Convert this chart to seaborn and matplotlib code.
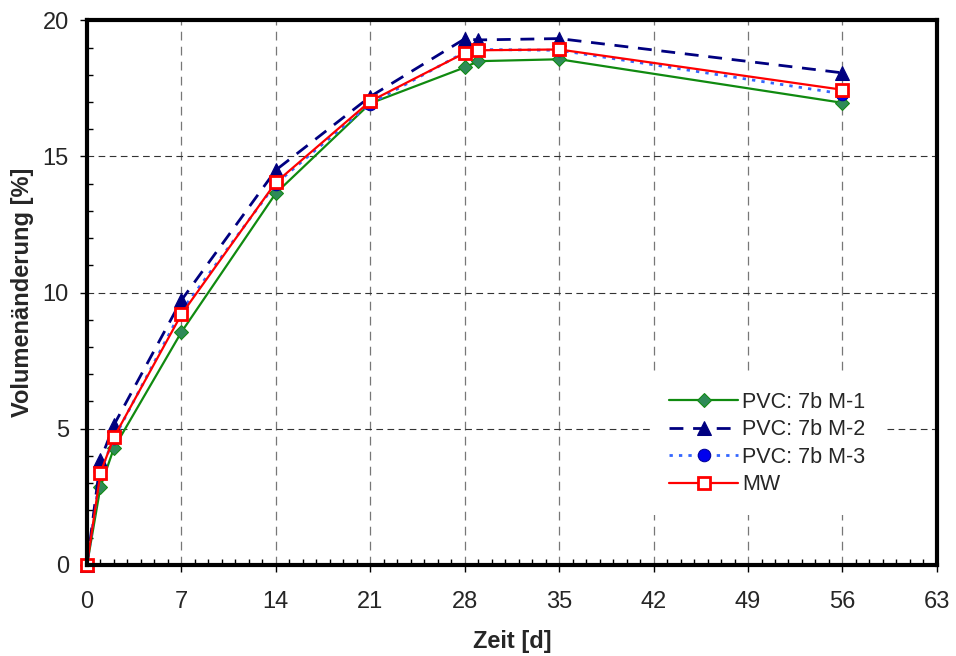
#!/usr/bin/env python3
# coding: utf-8

import matplotlib
matplotlib.use('Agg')
import matplotlib.pyplot as plt
import seaborn as sns
from matplotlib.ticker import MultipleLocator

# Zeitpunkte [d]
tage = [0, 1, 2, 7, 14, 21, 28, 29, 35, 56]

# Volumenaenderung [%]
m1 = [0, 2.87, 4.29, 8.55, 13.65, 16.95, 18.27, 18.50, 18.57, 16.97]
m2 = [0, 3.85, 5.14, 9.72, 14.50, 17.20, 19.32, 19.28, 19.33, 18.07]
m3 = [0, 3.45, 4.64, 9.33, 14.00, 16.94, 18.83, 18.93, 18.90, 17.30]
mw = [0, 3.39, 4.69, 9.20, 14.05, 17.03, 18.80, 18.90, 18.93, 17.45]

labels = ['PVC: 7b M-1', 'PVC: 7b M-2', 'PVC: 7b M-3', 'MW']

sns.set_style('white')
plt.rcParams['font.family'] = ['Liberation Sans', 'DejaVu Sans']

fig = plt.figure(figsize=(9.56, 6.56), dpi=100)
ax = fig.add_axes([0.091, 0.139, 0.889, 0.830])

# M-1
sns.lineplot(x=tage, y=m1, ax=ax, color='#108a10', lw=1.6, marker='D',
             markersize=7, markerfacecolor='#2e8b57', markeredgecolor='#108a10',
             label=labels[0])
# M-3
sns.lineplot(x=tage, y=m3, ax=ax, color='#3366ff', lw=2, marker='o',
             markersize=9, markerfacecolor='#0000ee', markeredgecolor='#000099',
             label=labels[2])
ax.lines[-1].set_linestyle((0, (1.2, 2.2)))
# M-2
sns.lineplot(x=tage, y=m2, ax=ax, color='#000080', lw=2, marker='^',
             markersize=10, markerfacecolor='#000080', markeredgecolor='#000080',
             label=labels[1])
ax.lines[-1].set_linestyle((0, (5, 3.5)))
# MW
sns.lineplot(x=tage, y=mw, ax=ax, color='#ff0000', lw=1.6, marker='s',
             markersize=9, markerfacecolor='white', markeredgecolor='#ff0000',
             markeredgewidth=2, label=labels[3])

ax.set_xlim(0, 63)
ax.set_ylim(0, 20)
ax.xaxis.set_major_locator(MultipleLocator(7))
ax.xaxis.set_minor_locator(MultipleLocator(1))
ax.yaxis.set_major_locator(MultipleLocator(5))
ax.yaxis.set_minor_locator(MultipleLocator(1))
ax.tick_params(which='major', direction='out', length=5, width=1,
               labelsize=17, color='black', bottom=True, left=True)
ax.tick_params(axis='x', which='major', pad=14)
ax.tick_params(axis='y', which='major', pad=8)
ax.tick_params(which='minor', direction='in', length=4, width=1,
               color='black', bottom=True, left=True)

ax.xaxis.grid(True, which='major', color='#777777', linestyle=(0, (7, 5)), lw=0.9)
ax.yaxis.grid(True, which='major', color='#333333', linestyle=(0, (6, 4)), lw=0.8)
for s in ax.spines.values():
    s.set_linewidth(3)
    s.set_color('black')

ax.set_xlabel('Zeit [d]', fontsize=17, fontweight='bold', labelpad=12)
ax.set_ylabel('Volumenänderung [%]', fontsize=17, fontweight='bold', labelpad=6)

handles, labs = ax.get_legend_handles_labels()
order = [labs.index(l) for l in labels]
leg = ax.legend([handles[i] for i in order], [labs[i] for i in order],
                loc='lower right', bbox_to_anchor=(0.939, 0.092), borderaxespad=0,
                frameon=True, facecolor='white', edgecolor='none', framealpha=1,
                fancybox=False, borderpad=0.9, fontsize=15.5, handlelength=3.2,
                labelspacing=0.30, handletextpad=0.2)

for l in ax.lines:
    l.set_clip_on(False)

fig.savefig('out.png', dpi=100)
